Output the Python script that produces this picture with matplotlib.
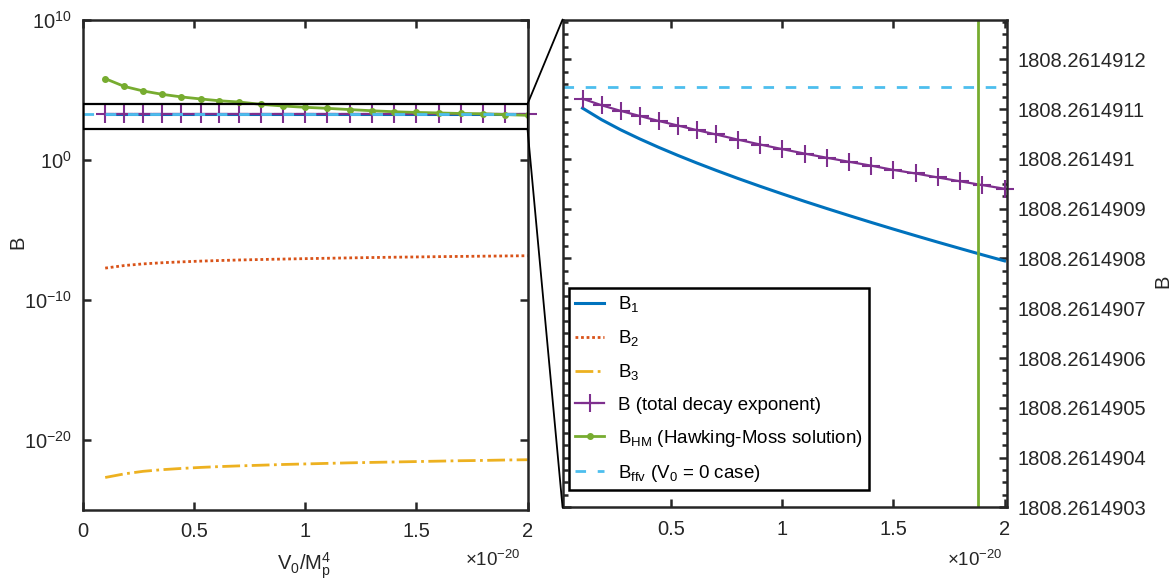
import numpy as np
import matplotlib
matplotlib.use("Agg")
import matplotlib.pyplot as plt
from matplotlib.patches import Rectangle, ConnectionPatch
from matplotlib.ticker import FixedLocator, FuncFormatter, NullLocator

plt.rcParams['font.family'] = ['Liberation Sans', 'DejaVu Sans']
plt.rcParams['mathtext.default'] = 'regular'
plt.rcParams['axes.unicode_minus'] = False

# V0/Mp^4 in units of 1e-20
v0 = [0.1, 0.186, 0.271, 0.357, 0.443, 0.529, 0.614, 0.7, 0.8, 0.9, 1.0,
      1.1, 1.2, 1.3, 1.4, 1.5, 1.6, 1.7, 1.8, 1.9, 2.0]

b_total = [1808.2614911210, 1808.2614911077, 1808.2614910966, 1808.2614910863,
           1808.2614910762, 1808.2614910671, 1808.2614910579, 1808.2614910492,
           1808.2614910387, 1808.2614910289, 1808.2614910196, 1808.2614910107,
           1808.2614910023, 1808.2614909942, 1808.2614909864, 1808.2614909779,
           1808.2614909707, 1808.2614909627, 1808.2614909550, 1808.2614909474,
           1808.2614909401]
b1 = [1808.2614911020, 1808.2614910787, 1808.2614910586, 1808.2614910403,
      1808.2614910232, 1808.2614910071, 1808.2614909919, 1808.2614909772,
      1808.2614909607, 1808.2614909449, 1808.2614909296, 1808.2614909147,
      1808.2614909003, 1808.2614908862, 1808.2614908724, 1808.2614908589,
      1808.2614908457, 1808.2614908327, 1808.2614908200, 1808.2614908074,
      1808.2614907951]
b2 = [1.9e-8, 2.9e-8, 3.8e-8, 4.6e-8, 5.3e-8, 6.0e-8, 6.6e-8, 7.2e-8, 7.8e-8,
      8.4e-8, 9.0e-8, 9.6e-8, 1.02e-7, 1.08e-7, 1.14e-7, 1.19e-7, 1.25e-7,
      1.30e-7, 1.35e-7, 1.40e-7, 1.45e-7]
b3 = [2.1e-23, 3.8e-23, 5.8e-23, 7.6e-23, 9.3e-23, 1.1e-22, 1.26e-22,
      1.41e-22, 1.58e-22, 1.78e-22, 1.95e-22, 2.14e-22, 2.34e-22, 2.51e-22,
      2.69e-22, 2.88e-22, 3.09e-22, 3.31e-22, 3.47e-22, 3.72e-22, 3.89e-22]
b_hm = [6.5e5, 1.8e5, 8.5e4, 4.9e4, 3.2e4, 2.3e4, 1.7e4, 1.4e4, 9.5e3,
        7.2e3, 5.8e3, 4.9e3, 4.0e3, 3.3e3, 2.8e3, 2.5e3, 2.3e3, 2.1e3,
        2.0e3, 1766, 1550]
b_ffv = 1808.261491145

zoom_box = (160, 1e4)
right_ticks = [1808.2614903, 1808.2614904, 1808.2614905, 1808.2614906,
               1808.2614907, 1808.2614908, 1808.2614909, 1808.261491,
               1808.2614911, 1808.2614912]

c_ax = '#262626'
fs = 14.5


def draw_series(ax):
    ax.plot(v0, b1, '-', color='#0072BD', lw=2.2, label='B$_1$')
    ax.plot(v0, b2, color='#D95319', lw=2, ls=(0, (1, 1)), label='B$_2$')
    ax.plot(v0, b3, '-.', color='#EDB120', lw=2, label='B$_3$')
    ax.plot(v0, b_total, '-', marker='+', color='#7E2F8E', lw=1.6, ms=13,
            mew=1.5, clip_on=False, label='B (total decay exponent)')
    ax.plot(v0, b_hm, '-', marker='.', color='#77AC30', lw=2, ms=8,
            label='B$_{HM}$ (Hawking-Moss solution)')
    ax.axhline(b_ffv, color='#4DBEEE', lw=2, dashes=(3.8, 4.2),
               label='B$_{ffv}$ (V$_0$ = 0 case)')


def style_axes(ax):
    for s in ax.spines.values():
        s.set_linewidth(1.8)
        s.set_color(c_ax)
    ax.tick_params(which='both', direction='in', top=True, right=True,
                   colors=c_ax, labelsize=fs, width=1.8)
    ax.tick_params(which='major', length=6)
    ax.tick_params(which='minor', length=3.5)


fig = plt.figure(figsize=(11.72, 5.8), dpi=100)
ax1 = fig.add_axes([0.0708, 0.1207, 0.3793, 0.8448])
ax2 = fig.add_axes([0.48, 0.1253, 0.379, 0.841])

# left panel, log scale overview
draw_series(ax1)
ax1.set_yscale('log')
ax1.set_xlim(0, 2)
ax1.set_ylim(1e-25, 1e10)
ax1.yaxis.set_major_locator(FixedLocator([1e-20, 1e-10, 1, 1e10]))
ax1.yaxis.set_minor_locator(NullLocator())
ax1.xaxis.set_major_locator(FixedLocator([0, 0.5, 1, 1.5, 2]))
ax1.xaxis.set_major_formatter(FuncFormatter(lambda v, p: '%g' % v))
style_axes(ax1)
ax1.tick_params(axis='x', pad=9)
ax1.tick_params(axis='y', pad=8)
ax1.set_ylabel('B', fontsize=fs, color=c_ax)
ax1.yaxis.set_label_coords(-0.126, 0.547)
ax1.set_xlabel('V$_0$/M$_p^4$', fontsize=fs, color=c_ax, va='top')
ax1.xaxis.set_label_coords(0.497, -0.082)
ax1.text(0.985, -0.082, '×10$^{-20}$', transform=ax1.transAxes, ha='right',
         va='top', fontsize=13.5, color=c_ax)
ax1.add_patch(Rectangle((0, zoom_box[0]), 2, zoom_box[1] - zoom_box[0],
                        fill=False, ec='black', lw=1.6, zorder=5))

# right panel, zoom around B ~ 1808.26149
draw_series(ax2)
ax2.set_xlim(0.01, 2.01)
ax2.set_ylim(1808.2614903, 1808.26149128)
ax2.xaxis.set_major_locator(FixedLocator([0.5, 1, 1.5, 2]))
ax2.xaxis.set_major_formatter(FuncFormatter(lambda v, p: '%g' % v))
ax2.yaxis.set_major_locator(FixedLocator(right_ticks))
minor = [right_ticks[0] + k * 0.25e-7 for k in range(40)]
ax2.yaxis.set_minor_locator(FixedLocator(minor))
ax2.yaxis.set_major_formatter(
    FuncFormatter(lambda v, p: ('%.7f' % v).rstrip('0')))
style_axes(ax2)
ax2.tick_params(axis='y', labelleft=False, labelright=True, pad=8)
ax2.tick_params(axis='x', pad=9)
ax2.yaxis.set_label_position('right')
ax2.set_ylabel('B', fontsize=fs, color=c_ax)
ax2.yaxis.set_label_coords(1.329, 0.463)
ax2.text(0.992, -0.087, '×10$^{-20}$', transform=ax2.transAxes, ha='right',
         va='top', fontsize=13.5, color=c_ax)

leg = ax2.legend(loc='lower left', bbox_to_anchor=(0.014, 0.035),
                 borderaxespad=0, fontsize=13.5, handlelength=1.55,
                 handletextpad=0.7, labelspacing=0.75, borderpad=0.35,
                 fancybox=False, framealpha=1, edgecolor='black',
                 numpoints=1)
leg.get_frame().set_linewidth(1.8)

# lines joining the box to the zoomed panel
for ya, yb in [(zoom_box[1], 1), (zoom_box[0], 0)]:
    con = ConnectionPatch(xyA=(2, ya), coordsA=ax1.transData,
                          xyB=(0, yb), coordsB=ax2.transAxes,
                          color='black', lw=1.3)
    fig.add_artist(con)

fig.savefig('out.png', dpi=100)
